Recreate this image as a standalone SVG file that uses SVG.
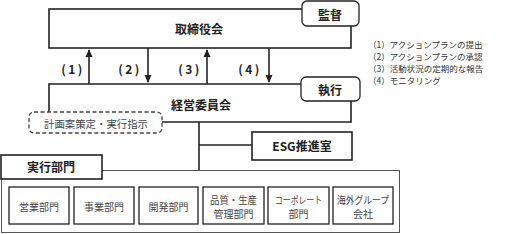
<svg xmlns="http://www.w3.org/2000/svg" width="509" height="234" viewBox="0 0 509 234">
<style>
.ln{fill:none;stroke:#222;stroke-width:1.6}
.bx{fill:#fff;stroke:#222;stroke-width:1.6}
.rb{fill:#fff;stroke:#222;stroke-width:1.3}
.t{font-family:"Noto Sans CJK JP","Liberation Sans",sans-serif;fill:#222;text-anchor:middle;dominant-baseline:central}
.b{font-weight:bold;font-size:12px}
.p{letter-spacing:2.5px}
.s{font-size:10px;fill:#444}
.lg{font-family:"Noto Sans CJK JP","Liberation Sans",sans-serif;font-size:8.5px;fill:#333}
</style>
<defs>
<marker id="ah" markerWidth="8" markerHeight="8" refX="7" refY="4" orient="auto" markerUnits="userSpaceOnUse">
<path d="M0,0.5 L8,4 L0,7.5 Z" fill="#222"/>
</marker>
</defs>
<g id="connectors">
<line class="ln" x1="89" y1="84" x2="89" y2="50" marker-end="url(#ah)"/>
<line class="ln" x1="148" y1="48" x2="148" y2="82" marker-end="url(#ah)"/>
<line class="ln" x1="207" y1="84" x2="207" y2="50" marker-end="url(#ah)"/>
<line class="ln" x1="269" y1="48" x2="269" y2="82" marker-end="url(#ah)"/>
<polyline class="ln" points="199,122 199,171"/>
<line class="ln" x1="199" y1="145" x2="252" y2="145"/>
</g>
<g id="labels-arrows">
<text class="t b p" x="73" y="68">(1)</text>
<text class="t b p" x="130" y="68">(2)</text>
<text class="t b p" x="190" y="68">(3)</text>
<text class="t b p" x="250" y="68">(4)</text>
</g>
<g id="board">
<rect class="bx" x="49" y="9" width="302" height="39"/>
<text class="t b" x="199" y="28">取締役会</text>
</g>
<g id="supervision">
<rect class="rb" x="302" y="1" width="57" height="25" rx="5"/>
<text class="t b" x="330" y="14">監督</text>
</g>
<g id="exec-committee">
<polyline class="ln" points="49,112 49,84 351,84 351,122 162,122"/>
<text class="t b" x="201" y="104">経営委員会</text>
</g>
<g id="execution">
<rect class="rb" x="301" y="77" width="59" height="24" rx="5"/>
<text class="t b" x="330" y="89">執行</text>
</g>
<g id="plan">
<rect x="29" y="112" width="133" height="21" rx="5" fill="#fff" stroke="#444" stroke-width="1.3" stroke-dasharray="4,2.5"/>
<text class="t s" x="96" y="123" textLength="104" lengthAdjust="spacingAndGlyphs">計画案策定・実行指示</text>
</g>
<g id="esg">
<rect class="bx" x="252" y="132" width="100" height="28"/>
<text class="t b" x="302" y="145">ESG推進室</text>
</g>
<g id="exec-dept">
<rect x="1.5" y="170.5" width="398" height="62" fill="#fff" stroke="#555" stroke-width="1"/>
<rect class="bx" x="1" y="155" width="101" height="24"/>
<text class="t b" x="51" y="166">実行部門</text>
</g>
<g id="sales">
<rect class="rb" x="9" y="187" width="60" height="37"/>
<text class="t s" x="39" y="206">営業部門</text>
</g>
<g id="business">
<rect class="rb" x="74" y="187" width="60" height="37"/>
<text class="t s" x="104" y="206">事業部門</text>
</g>
<g id="dev">
<rect class="rb" x="139" y="187" width="59" height="37"/>
<text class="t s" x="168.5" y="206">開発部門</text>
</g>
<g id="quality">
<rect class="rb" x="203" y="187" width="61" height="37"/>
<text class="t s" x="233.5" y="199" textLength="47" lengthAdjust="spacingAndGlyphs">品質・生産</text>
<text class="t s" x="233.5" y="213">管理部門</text>
</g>
<g id="corporate">
<rect class="rb" x="268" y="187" width="61" height="37"/>
<text class="t s" x="298.5" y="199" textLength="47" lengthAdjust="spacingAndGlyphs">コーポレート</text>
<text class="t s" x="298.5" y="213">部門</text>
</g>
<g id="overseas">
<rect class="rb" x="333" y="187" width="60" height="37"/>
<text class="t s" x="363" y="199" textLength="52" lengthAdjust="spacingAndGlyphs">海外グループ</text>
<text class="t s" x="363" y="213">会社</text>
</g>
<g id="legend">
<text class="lg" x="368" y="48">（1）アクションプランの提出</text>
<text class="lg" x="368" y="60">（2）アクションプランの承認</text>
<text class="lg" x="368" y="72">（3）活動状況の定期的な報告</text>
<text class="lg" x="368" y="84">（4）モニタリング</text>
</g>
</svg>
